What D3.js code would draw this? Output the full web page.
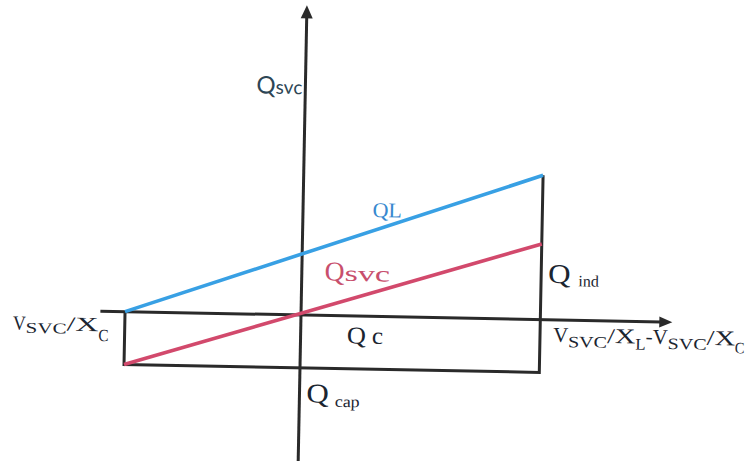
<!DOCTYPE html>
<html>
<head>
<meta charset="utf-8">
<script src="https://cdn.jsdelivr.net/npm/d3@7"></script>
<style>
  html, body { margin: 0; padding: 0; background: #ffffff; }
  svg { display: block; }
</style>
</head>
<body>
<svg id="chart" width="751" height="461"></svg>
<script>
// SVC steady-state characteristic, all quantities in per-unit.
const xAxisExtent = [-1.14, 2.11];      // horizontal axis span
const yAxisExtent = [-0.83, 1.76];      // vertical axis span (Q_SVC)
const rangeX      = [-1.00, 1.36];      // V/Xc (left) .. V/XL - V/Xc (right)
const qLValues    = [0.00, 0.82];       // reactor power Q_L at both ends
const qSvcValues  = [-0.30, 0.43];      // net SVC power at both ends
const qCapLevel   = -0.30;              // fixed capacitor level Q_cap

const unit = 176;                       // pixels per per-unit
const svg = d3.select("#chart");

const x = d3.scaleLinear().domain([0, 1]).range([0, unit]);
const y = d3.scaleLinear().domain([0, 1]).range([0, -unit]);

const g = svg.append("g").attr("transform", "translate(301,315) rotate(1.1)");

const ink = "#2a2a2a";
const blue = "#38a0e4";
const red = "#d2496c";
const serif = "'Liberation Serif', 'Times New Roman', serif";

const line = d3.line().x(d => x(d[0])).y(d => y(d[1]));

// axes with arrowheads
function arrow(p0, p1, len, half) {
  const dx = p1[0] - p0[0], dy = p1[1] - p0[1];
  const L = Math.hypot(dx, dy), ux = dx / L, uy = dy / L;
  const bx = p1[0] - ux * len, by = p1[1] - uy * len;
  g.append("line")
    .attr("x1", p0[0]).attr("y1", p0[1])
    .attr("x2", bx + ux * 2).attr("y2", by + uy * 2)
    .attr("stroke", ink).attr("stroke-width", 3);
  g.append("path")
    .attr("d", `M${p1[0]},${p1[1]}L${bx - uy * half},${by + ux * half}L${bx + uy * half},${by - ux * half}Z`)
    .attr("fill", ink);
}
arrow([x(xAxisExtent[0]), y(0)], [x(xAxisExtent[1]), y(0)], 13, 5.5);
arrow([x(0), y(yAxisExtent[0])], [x(0), y(yAxisExtent[1])], 13, 6);

// limit frame: left edge, Q_cap bottom, right edge
g.append("path")
  .attr("d", line([[rangeX[0], 0], [rangeX[0], qCapLevel], [rangeX[1], qCapLevel], [rangeX[1], qLValues[1]]]))
  .attr("fill", "none").attr("stroke", ink).attr("stroke-width", 3)
  .attr("stroke-linejoin", "miter");

// Q_L and Q_SVC characteristics
g.append("path")
  .attr("d", line(rangeX.map((v, i) => [v, qLValues[i]])))
  .attr("fill", "none").attr("stroke", blue).attr("stroke-width", 3.6);
g.append("path")
  .attr("d", line(rangeX.map((v, i) => [v, qSvcValues[i]])))
  .attr("fill", "none").attr("stroke", red).attr("stroke-width", 3.6);

// Label built from pieces: [text, fontSize, baselineShift, widthScale, gapBefore]
function label(px, py, parts, opts) {
  const lg = g.append("g");
  let cursor = 0;
  parts.forEach(([txt, size, sh, sx, gap]) => {
    cursor += gap || 0;
    const t = lg.append("text")
      .attr("transform", `translate(${cursor},${sh}) scale(${sx},1)`)
      .attr("font-family", opts.font || serif)
      .attr("font-size", size)
      .attr("fill", opts.color || "#1b2530")
      .text(txt);
    cursor += t.node().getComputedTextLength() * sx;
  });
  const shiftX = opts.anchor === "end" ? -cursor : 0;
  lg.attr("transform", `translate(${px + shiftX},${py})`);
}

// axis end labels
label(x(rangeX[0]) - 112, y(0) + 20, [
  ["V", 20, 0, 0.9], ["SVC", 15, 3, 1.4], ["/X", 20, 0, 1.6], ["C", 17, 10, 0.9]
], {});
label(x(rangeX[1]) + 13, y(0) + 22, [
  ["V", 21, 0, 1], ["SVC", 16, 5, 1.25], ["/X", 21, 0, 1.35], ["L", 16, 6, 1.05],
  ["-V", 21, 0, 1], ["SVC", 16, 5, 1.25], ["/X", 21, 0, 1.35], ["C", 16, 8, 0.9]
], {});

// curve and region labels
label(x(0) - 3, y(yAxisExtent[1]) + 89, [["Q", 24, 0, 1], ["svc", 19, 0, 1]],
  { font: "Lato, 'Open Sans', sans-serif", color: "#2d4655", anchor: "end" });
label(x(0.395), y(0.565), [["QL", 21, 0, 1.05]], { color: "#3889cf" });
label(x(0.13), y(0.20), [["Q", 27, 0, 1.02], ["svc", 22, 0, 1.55]], { color: "#c84f6d" });
label(x(0.263), y(-0.155), [["Q", 24, 0, 1.1], ["c", 24, 0, 1.05, 6]], {});
label(x(0.04), y(-0.495), [["Q", 27, 0, 1.15], ["cap", 16, 4, 1.12, 6]], {});
label(x(rangeX[1]) + 7, y(0.21), [["Q", 27, 0, 1.15], ["ind", 16, 3, 1.0, 8]], {});
</script>
</body>
</html>
